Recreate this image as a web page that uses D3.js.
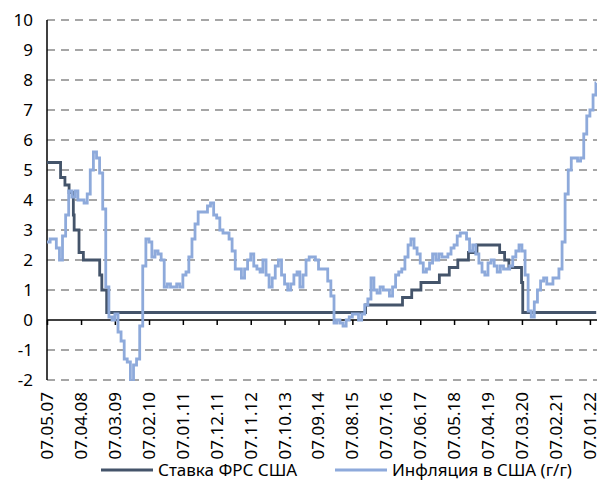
<!DOCTYPE html>
<html>
<head>
<meta charset="utf-8">
<script src="https://cdn.jsdelivr.net/npm/d3@7"></script>
<style>
  body { margin: 0; background: #fff; }
  svg { display: block; font-family: "Noto Sans", sans-serif; }
</style>
</head>
<body>
<svg width="597" height="491"></svg>
<script>
// tick labels on the x axis (every 48 weeks)
var tickLabels = ["07.05.07","07.04.08","07.03.09","07.02.10","07.01.11","07.12.11","07.11.12","07.10.13",
    "07.09.14","07.08.15","07.07.16","07.06.17","07.05.18","07.04.19","07.03.20","07.02.21","07.01.22"];

var yTicks = [-2, -1, 0, 1, 2, 3, 4, 5, 6, 7, 8, 9, 10];

// Fed rate: dates of change and new level
var fedDates = ["2007-05-07","2007-09-18","2007-10-31","2007-12-11","2008-01-22","2008-01-30","2008-03-18",
    "2008-04-30","2008-10-08","2008-10-29","2008-12-16","2015-12-16","2016-12-14","2017-03-15","2017-06-14",
    "2017-12-13","2018-03-21","2018-06-13","2018-09-26","2018-12-19","2019-07-31","2019-09-18","2019-10-30",
    "2020-03-03","2020-03-15"];
var fedValues = [5.25, 4.75, 4.5, 4.25, 3.5, 3.0, 2.25, 2.0, 1.5, 1.0, 0.25, 0.5, 0.75, 1.0, 1.25,
    1.5, 1.75, 2.0, 2.25, 2.5, 2.25, 2.0, 1.75, 1.25, 0.25];

// Inflation y/y, monthly, first value = April 2007
var inflFirstMonth = "2007-04";
var inflValues = [
    2.6, 2.7, 2.7, 2.4, 2.0, 2.8, 3.5, 4.3, 4.1,
    4.3, 4.0, 4.0, 3.9, 4.2, 5.0, 5.6, 5.4, 4.9, 3.7, 1.1, 0.1,
    0.0, 0.2, -0.4, -0.7, -1.3, -1.4, -2.1, -1.5, -1.3, -0.2, 1.8, 2.7,
    2.6, 2.1, 2.3, 2.2, 2.0, 1.1, 1.2, 1.1, 1.1, 1.2, 1.1, 1.5,
    1.6, 2.1, 2.7, 3.2, 3.6, 3.6, 3.6, 3.8, 3.9, 3.5, 3.4, 3.0,
    2.9, 2.9, 2.7, 2.3, 1.7, 1.7, 1.4, 1.7, 2.0, 2.2, 1.8, 1.7,
    1.6, 2.0, 1.5, 1.1, 1.4, 1.8, 2.0, 1.5, 1.2, 1.0, 1.2, 1.5,
    1.6, 1.1, 1.5, 2.0, 2.1, 2.1, 2.0, 1.7, 1.7, 1.7, 1.3, 0.8,
    -0.1, 0.0, -0.1, -0.2, 0.0, 0.1, 0.2, 0.2, 0.0, 0.2, 0.5, 0.7,
    1.4, 1.0, 0.9, 1.1, 1.0, 1.0, 0.8, 1.1, 1.5, 1.6, 1.7, 2.1,
    2.5, 2.7, 2.4, 2.2, 1.9, 1.6, 1.7, 1.9, 2.2, 2.0, 2.2, 2.1,
    2.1, 2.2, 2.4, 2.5, 2.8, 2.9, 2.9, 2.7, 2.3, 2.5, 2.2, 1.9,
    1.6, 1.5, 1.9, 2.0, 1.8, 1.6, 1.8, 1.7, 1.7, 1.8, 2.1, 2.3,
    2.5, 2.3, 1.5, 0.3, 0.1, 0.6, 1.0, 1.3, 1.4, 1.2, 1.2, 1.4,
    1.4, 1.7, 2.6, 4.2, 5.0, 5.4, 5.4, 5.3, 5.4, 6.2, 6.8, 7.0,
    7.5, 7.9
];

var seriesNames = ["Ставка ФРС США", "Инфляция в США (г/г)"];
var colors = ["#44546a", "#8eaadb"];

var startDate = "2007-05-07", endDate = "2022-03-10";

build_chart();

function build_chart() {
    var svg = d3.select("svg"),
        plotLeft = 47, plotTop = 20, plotBottom = 380, plotRight = 597,
        parseISO = d3.timeParse("%Y-%m-%d"),
        parseTick = d3.timeParse("%d.%m.%y");

    var t0 = parseISO(startDate), t1 = parseISO(endDate);
    var pxPerDay = 34.04 / 336;

    var x = d3.scaleTime()
        .domain([t0, t1])
        .range([plotLeft, plotLeft + d3.timeDay.count(t0, t1) * pxPerDay]);
    var y = d3.scaleLinear().domain([-2, 10]).range([plotBottom, plotTop]);

    // step data
    var fedData = fedDates.map(function(d, i) { return {date: parseISO(d), value: fedValues[i]}; });
    fedData.push({date: t1, value: fedValues[fedValues.length - 1]});

    var m0 = d3.timeParse("%Y-%m")(inflFirstMonth);
    var inflData = inflValues.map(function(v, i) {
        // value of month M shows up shortly after start of month M+1
        var d = d3.timeDay.offset(d3.timeMonth.offset(m0, i + 1), 6);
        if (i == 0) d = t0;
        return {date: d, value: v};
    });
    inflData.push({date: t1, value: inflValues[inflValues.length - 1]});

    // gridlines
    svg.append("g")
        .selectAll("line")
        .data(yTicks.filter(function(d) { return d != 0; }))
        .enter().append("line")
        .attr("x1", plotLeft)
        .attr("x2", plotRight)
        .attr("y1", function(d) { return y(d); })
        .attr("y2", function(d) { return y(d); })
        .attr("stroke", "#a6a6a6")
        .attr("stroke-width", 1.8)
        .attr("stroke-dasharray", "8,6");

    // y labels
    svg.append("g")
        .selectAll("text")
        .data(yTicks)
        .enter().append("text")
        .attr("x", 33)
        .attr("y", function(d) { return y(d); })
        .attr("dy", "0.35em")
        .attr("text-anchor", "end")
        .attr("font-size", 17)
        .attr("fill", "#000")
        .text(function(d) { return d; });

    // x axis at zero
    var tickDates = tickLabels.map(function(d) { return parseTick(d); });
    var xAxis = svg.append("g")
        .attr("transform", "translate(0," + y(0) + ")")
        .call(d3.axisBottom(x).tickValues(tickDates).tickSize(5).tickSizeOuter(0).tickFormat(""));
    xAxis.select(".domain").attr("stroke", "#000").attr("stroke-width", 1.5)
        .attr("d", "M" + plotLeft + ",0H" + plotRight);
    xAxis.selectAll(".tick line").attr("stroke", "#000").attr("stroke-width", 1.5);

    // rotated date labels
    svg.append("g")
        .selectAll("text")
        .data(tickDates)
        .enter().append("text")
        .attr("transform", function(d) { return "translate(" + x(d) + ",392) rotate(-90)"; })
        .attr("dy", "0.35em")
        .attr("text-anchor", "end")
        .attr("font-size", 17)
        .attr("fill", "#000")
        .text(function(d, i) { return tickLabels[i]; });

    // y axis line
    svg.append("line")
        .attr("x1", plotLeft).attr("x2", plotLeft)
        .attr("y1", y(10)).attr("y2", y(-2))
        .attr("stroke", "#000")
        .attr("stroke-width", 1.5);

    // clip for the lines
    svg.append("clipPath").attr("id", "plot")
        .append("rect")
        .attr("x", plotLeft).attr("y", plotTop - 2)
        .attr("width", plotRight - plotLeft).attr("height", plotBottom - plotTop + 3);

    var line = d3.line()
        .x(function(d) { return x(d.date); })
        .y(function(d) { return y(d.value); })
        .curve(d3.curveStepAfter);

    var lines = svg.append("g").attr("clip-path", "url(#plot)");
    lines.append("path")
        .datum(fedData)
        .attr("fill", "none")
        .attr("stroke", colors[0])
        .attr("stroke-width", 2.8)
        .attr("d", line);
    lines.append("path")
        .datum(inflData)
        .attr("fill", "none")
        .attr("stroke", colors[1])
        .attr("stroke-width", 2.8)
        .attr("d", line);

    // legend
    var legendX = [101, 335];
    var legend = svg.append("g")
        .selectAll("g")
        .data(seriesNames)
        .enter().append("g")
        .attr("transform", function(d, i) { return "translate(" + legendX[i] + ",470)"; });

    legend.append("line")
        .attr("x1", 0).attr("x2", 52)
        .attr("stroke", function(d, i) { return colors[i]; })
        .attr("stroke-width", 2.8);

    legend.append("text")
        .attr("x", 57)
        .attr("dy", "0.35em")
        .attr("font-size", 17)
        .attr("fill", "#000")
        .text(function(d) { return d; });
}
</script>
</body>
</html>
